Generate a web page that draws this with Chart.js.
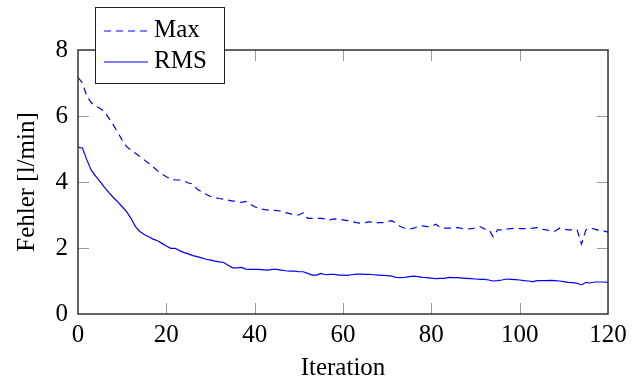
<!DOCTYPE html>
<html>
<head>
<meta charset="utf-8">
<script src="https://cdn.jsdelivr.net/npm/chart.js@4/dist/chart.umd.min.js"></script>
<style>
  html, body { margin: 0; padding: 0; background: #fff; }
  #wrap { position: relative; width: 641px; height: 383px; }
</style>
</head>
<body>
<div id="wrap"><canvas id="c" width="641" height="383"></canvas></div>
<script>
// ---- data ----
const iterations = [0,1,2,3,4,5,6,7,8,9,10,11,12,13,14,15,16,17,18,19,20,21,22,23,24,25,26,27,28,29,30,31,32,33,34,35,36,37,38,39,40,41,42,43,44,45,46,47,48,49,50,51,52,53,54,55,56,57,58,59,60,61,62,63,64,65,66,67,68,69,70,71,72,73,74,75,76,77,78,79,80,81,82,83,84,85,86,87,88,89,90,91,92,93,94,95,96,97,98,99,100,101,102,103,104,105,106,107,108,109,110,111,112,113,114,115,116,117,118,119,120];
const maxErr = [7.17,7.0,6.6,6.4,6.3,6.23,6.13,5.93,5.73,5.5,
  5.27,5.07,4.97,4.87,4.77,4.67,4.57,4.46,4.34,4.24,
  4.16,4.09,4.06,4.06,4.03,3.97,3.94,3.78,3.7,3.63,
  3.56,3.53,3.5,3.48,3.45,3.42,3.42,3.38,3.41,3.33,
  3.25,3.2,3.17,3.15,3.15,3.13,3.12,3.07,3.04,3.0,
  3.0,3.07,2.9,2.9,2.9,2.9,2.88,2.85,2.88,2.87,
  2.85,2.83,2.8,2.77,2.75,2.77,2.8,2.75,2.77,2.77,
  2.8,2.83,2.75,2.65,2.6,2.57,2.6,2.65,2.67,2.65,
  2.65,2.72,2.63,2.6,2.6,2.61,2.62,2.59,2.57,2.59,
  2.6,2.65,2.58,2.57,2.34,2.55,2.55,2.57,2.59,2.6,
  2.59,2.59,2.59,2.6,2.62,2.57,2.55,2.52,2.51,2.6,
  2.57,2.55,2.55,2.55,2.12,2.55,2.6,2.57,2.53,2.52,2.48];
const rmsErr = [5.05,5.03,4.67,4.36,4.18,4.01,3.84,3.68,3.53,3.4,
  3.25,3.1,2.9,2.65,2.5,2.41,2.34,2.27,2.22,2.14,
  2.06,1.99,1.99,1.92,1.86,1.82,1.77,1.74,1.7,1.66,
  1.63,1.6,1.58,1.56,1.48,1.4,1.4,1.41,1.36,1.35,
  1.35,1.35,1.34,1.33,1.35,1.35,1.33,1.31,1.3,1.3,
  1.28,1.28,1.23,1.18,1.18,1.23,1.19,1.2,1.2,1.18,
  1.18,1.17,1.19,1.21,1.21,1.2,1.2,1.19,1.18,1.17,
  1.16,1.15,1.11,1.1,1.11,1.13,1.15,1.13,1.11,1.1,
  1.09,1.07,1.08,1.08,1.11,1.1,1.1,1.09,1.08,1.07,
  1.06,1.05,1.05,1.03,1.0,1.01,1.03,1.06,1.05,1.04,
  1.03,1.01,1.0,0.98,1.01,1.01,1.01,1.02,1.01,1.0,
  0.98,0.96,0.95,0.93,0.88,0.96,0.94,0.97,0.97,0.97,0.96];
const seriesLabels = ["Max", "RMS"];
const xTitle = "Iteration";
const yTitle = "Fehler [l/min]";

const FONT = "'Liberation Serif', 'Times New Roman', serif";
const FS = 25;

// frame + inward ticks on all four sides (pgfplots style)
const framePlugin = {
  id: 'frame',
  beforeDatasetsDraw(chart) {
    const {ctx, chartArea: a, scales: {x, y}} = chart;
    ctx.save();
    ctx.strokeStyle = '#9a9a9a';
    ctx.lineWidth = 1;
    const L = 11;
    x.ticks.forEach(t => {
      if (t.value <= x.min || t.value >= x.max) return;
      const px = Math.round(x.getPixelForValue(t.value)) + 0.5;
      ctx.beginPath();
      ctx.moveTo(px, a.bottom); ctx.lineTo(px, a.bottom - L);
      ctx.moveTo(px, a.top); ctx.lineTo(px, a.top + L);
      ctx.stroke();
    });
    y.ticks.forEach(t => {
      if (t.value <= y.min || t.value >= y.max) return;
      const py = Math.round(y.getPixelForValue(t.value)) + 0.5;
      ctx.beginPath();
      ctx.moveTo(a.left, py); ctx.lineTo(a.left + L, py);
      ctx.moveTo(a.right, py); ctx.lineTo(a.right - L, py);
      ctx.stroke();
    });
    ctx.restore();
  },
  afterDatasetsDraw(chart) {
    const {ctx, chartArea: a} = chart;
    ctx.save();
    ctx.strokeStyle = '#333';
    ctx.lineWidth = 1.5;
    ctx.strokeRect(a.left, a.top, a.right - a.left, a.bottom - a.top);
    ctx.restore();
  },
  afterDraw(chart) {
    // legend box overlapping the top of the plot
    const {ctx} = chart;
    ctx.save();
    const bx = 95.5, by = 7.5, bw = 129, bh = 76;
    ctx.fillStyle = '#fff';
    ctx.fillRect(bx, by, bw, bh);
    ctx.strokeStyle = '#222';
    ctx.lineWidth = 1;
    ctx.strokeRect(bx, by, bw, bh);
    chart.data.datasets.forEach((ds, i) => {
      const cy = 31 + i * 31;
      ctx.beginPath();
      ctx.strokeStyle = ds.borderColor;
      ctx.lineWidth = ds.borderWidth;
      ctx.setLineDash(ds.borderDash || []);
      ctx.moveTo(104, cy); ctx.lineTo(148, cy);
      ctx.stroke();
      ctx.setLineDash([]);
      ctx.fillStyle = '#000';
      ctx.font = FS + 'px ' + FONT;
      ctx.textBaseline = 'alphabetic';
      ctx.textAlign = 'left';
      ctx.fillText(ds.label, 154, cy + 5.5);
    });
    ctx.restore();
  }
};

new Chart(document.getElementById('c'), {
  type: 'line',
  data: {
    datasets: [
      {
        label: seriesLabels[0],
        data: iterations.map((it, i) => ({x: it, y: maxErr[i]})),
        borderColor: '#0000ff',
        borderWidth: 1.2,
        borderDash: [7, 5],
        pointRadius: 0,
        tension: 0,
        fill: false
      },
      {
        label: seriesLabels[1],
        data: iterations.map((it, i) => ({x: it, y: rmsErr[i]})),
        borderColor: '#0000ff',
        borderWidth: 1.2,
        pointRadius: 0,
        tension: 0,
        fill: false
      }
    ]
  },
  options: {
    responsive: false,
    animation: false,
    devicePixelRatio: 1,
    layout: { padding: { top: 50, right: 33, left: 0, bottom: 0 } },
    plugins: { legend: { display: false }, tooltip: { enabled: false } },
    scales: {
      x: {
        type: 'linear',
        min: 0, max: 120,
        afterFit: s => { s.height = 69; },
        grid: { display: false, drawTicks: false },
        border: { display: false },
        ticks: { stepSize: 20, padding: 6, color: '#000', font: { family: FONT, size: FS } },
        title: { display: true, text: xTitle, color: '#000', font: { family: FONT, size: FS }, padding: { top: 0, bottom: 0 } }
      },
      y: {
        min: 0, max: 8,
        afterFit: s => { s.width = 78; },
        grid: { display: false, drawTicks: false },
        border: { display: false },
        ticks: { stepSize: 2, padding: 10, color: '#000', font: { family: FONT, size: FS } },
        title: { display: true, text: yTitle, color: '#000', font: { family: FONT, size: FS }, padding: { top: 12, bottom: 0 } }
      }
    }
  },
  plugins: [framePlugin]
});
</script>
</body>
</html>
